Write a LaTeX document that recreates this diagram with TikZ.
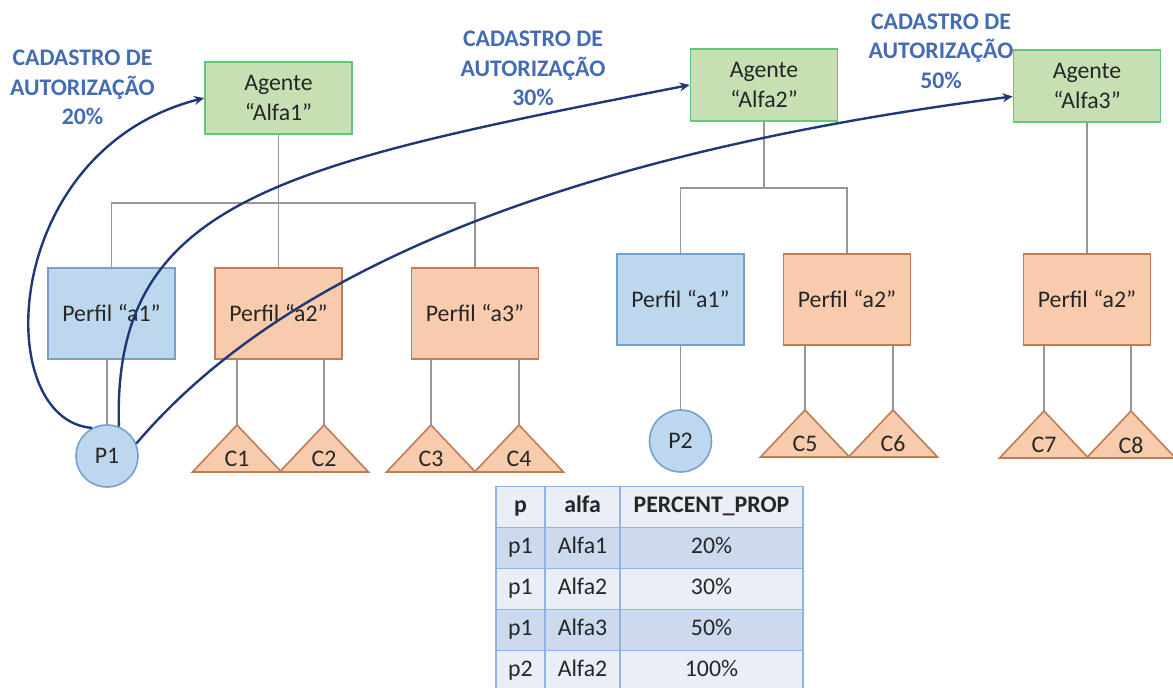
\documentclass[tikz,border=0pt]{standalone}
\usepackage{fontspec}
\setmainfont{Carlito}
\usetikzlibrary{arrows.meta}

\definecolor{agentfill}{RGB}{198,224,180}
\definecolor{agentline}{RGB}{96,200,120}
\definecolor{bluefill}{RGB}{189,215,238}
\definecolor{blueline}{RGB}{120,160,205}
\definecolor{orangefill}{RGB}{248,203,173}
\definecolor{orangeline}{RGB}{190,125,85}
\definecolor{tiegray}{RGB}{150,150,150}
\definecolor{navy}{RGB}{31,56,120}
\definecolor{labelblue}{RGB}{68,108,180}
\definecolor{tabline}{RGB}{143,180,227}
\definecolor{tabdark}{RGB}{205,218,238}
\definecolor{tablight}{RGB}{233,238,247}

\newcommand{\diagfont}{\fontsize{11.9}{15}\selectfont}

\tikzstyle{agent}=[rectangle,draw=agentline,fill=agentfill,line width=0.9pt,minimum width=73.5pt,minimum height=36pt,align=center,font=\diagfont,text=black!85]
\tikzstyle{perfil}=[rectangle,line width=0.8pt,minimum width=63.5pt,minimum height=45.5pt,font=\diagfont,text=black!85]
\tikzstyle{pessoa}=[circle,draw=blueline,fill=bluefill,line width=0.8pt,minimum size=31pt,inner sep=0pt,font=\diagfont,text=black!85]
\tikzstyle{leaf}=[draw=orangeline,fill=orangefill,line width=0.8pt]
\tikzstyle{leaf text}=[font=\diagfont,inner sep=0pt,text=black!85]
\tikzstyle{tie}=[draw=tiegray,line width=0.8pt]
\tikzstyle{cadastro}=[draw=navy,line width=1.2pt,-{Stealth[length=5pt,width=4.5pt]}]
\tikzstyle{cadastro label}=[font=\fontsize{11.9}{14.7}\selectfont\bfseries,text=labelblue,align=center]
\tikzstyle{cell}=[rectangle,draw=tabline,line width=0.8pt,minimum height=20.5pt,inner sep=0pt,text height=8.4pt,text depth=2.6pt,font=\diagfont,text=black!85]

\begin{document}
\begin{tikzpicture}[x=0.5pt,y=-0.5pt]
  \useasboundingbox (0,0) rectangle (1173,688);

  % The three agents on top
  \foreach \pos/\name/\txt in {{(278.5,98)/alfa1/Alfa1}, {(764,85)/alfa2/Alfa2}, {(1087,86)/alfa3/Alfa3}}
    \node[agent] (\name) at \pos {Agente\\“\txt”};

  % Profile boxes, blue and orange
  \foreach \pos/\name/\txt in {{(111.5,313.5)/pa1/a1}, {(680.5,299.5)/pb1/a1}}
    \node[perfil,draw=blueline,fill=bluefill] (\name) at \pos {Perfil “\txt”};
  \foreach \pos/\name/\txt in {{(278.5,313.5)/pa2/a2}, {(475,313.5)/pa3/a3}, {(847,299.5)/pb2/a2}, {(1087,299.5)/pc2/a2}}
    \node[perfil,draw=orangeline,fill=orangefill] (\name) at \pos {Perfil “\txt”};

  % Persons
  \foreach \pos/\name/\txt in {{(107,456)/p1/P1}, {(680.5,441)/p2/P2}}
    \node[pessoa] (\name) at \pos {\txt};

  % Triangles, the apex is kept as a coordinate
  \foreach \name/\x/\y in {C1/237/425, C2/324/425, C3/431/425, C4/519/425, C5/805/410, C6/893/410, C7/1044/411, C8/1131/411} {
    \coordinate (\name) at (\x,\y);
    \draw[leaf] (\name) -- ++(44.5,47) -- ++(-89,0) -- cycle;
    \node[leaf text] (\name-txt) at (\x,{\y+34}) {\name};
  }

  % Tree lines
  \coordinate (bus1) at (278.5,203);
  \coordinate (bus2) at (764,188);
  \draw[tie] (pa1.north) |- (bus1) -| (pa3.north);
  \draw[tie] (alfa1.south) -- (pa2.north);
  \draw[tie] (pb1.north) |- (bus2) -| (pb2.north);
  \draw[tie] (alfa2.south) -- (bus2);
  \draw[tie] (alfa3.south) -- (pc2.north);
  \draw[tie] (pa1.south -| p1) -- (p1.north);
  \draw[tie] (pb1.south) -- (p2.north);
  \foreach \source/\dest in {pa2/C1, pa2/C2, pa3/C3, pa3/C4, pb2/C5, pb2/C6, pc2/C7, pc2/C8}
    \draw[tie] (\source.south -| \dest) -- (\dest);

  % Authorisation arrows from P1
  \draw[cadastro] (p1.118) .. controls (-10,420) and (0,150) .. (alfa1.west);
  \draw[cadastro] (p1.68) .. controls (112,200) and (280,165) .. (alfa2.west);
  \draw[cadastro] (p1.23) .. controls (250,310) and (480,165) .. (alfa3.188);

  \node[cadastro label] (lab1) at (82.5,87.5) {CADASTRO DE\\AUTORIZAÇÃO\\20\%};
  \node[cadastro label] (lab2) at (533,68.5) {CADASTRO DE\\AUTORIZAÇÃO\\30\%};
  \node[cadastro label] (lab3) at (941,51) {CADASTRO DE\\AUTORIZAÇÃO\\50\%};

  % Table
  \node[cell,fill=tablight,minimum width=24.5pt,font=\diagfont\bfseries] (h1) at (520.5,507) {p};
  \node[cell,fill=tablight,minimum width=37.5pt,font=\diagfont\bfseries] (h2) at (582.5,507) {alfa};
  \node[cell,fill=tablight,minimum width=91.5pt,font=\diagfont\bfseries] (h3) at (711.5,507) {PERCENT\_PROP};
  \foreach \row/\cy/\shade/\pp/\al/\pc in {1/548/tabdark/p1/Alfa1/20\%, 2/589/tablight/p1/Alfa2/30\%, 3/630/tabdark/p1/Alfa3/50\%, 4/671/tablight/p2/Alfa2/100\%} {
    \node[cell,fill=\shade,minimum width=24.5pt] (r\row-p) at (520.5,\cy) {\pp};
    \node[cell,fill=\shade,minimum width=37.5pt] (r\row-a) at (582.5,\cy) {\al};
    \node[cell,fill=\shade,minimum width=91.5pt] (r\row-v) at (711.5,\cy) {\pc};
  }
\end{tikzpicture}
\end{document}
